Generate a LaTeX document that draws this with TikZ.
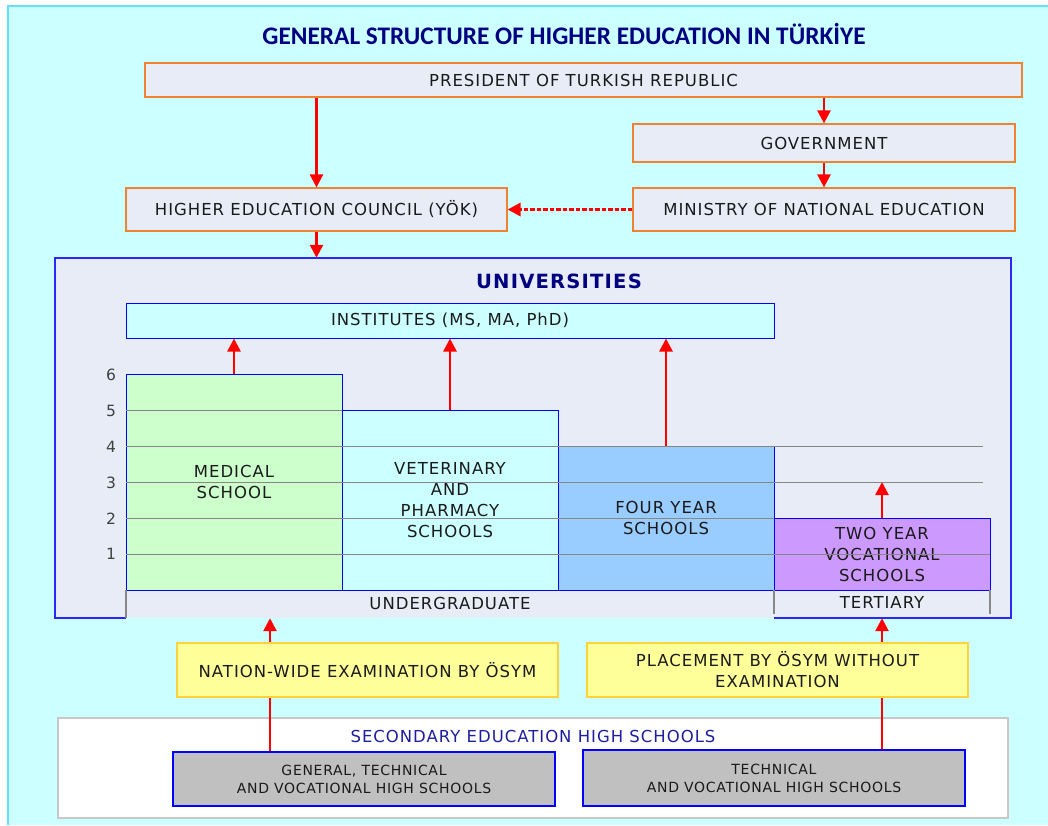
\documentclass[tikz,border=0pt]{standalone}
\usepackage{fontspec}
\usetikzlibrary{arrows.meta}
\newfontfamily\dvfont{DejaVu Sans}[LetterSpace=6]
\newfontfamily\dvsfont{DejaVu Sans}[LetterSpace=5]
\newfontfamily\dvnum{DejaVu Sans}
\newfontfamily\carl{Carlito}
\definecolor{cyanbg}{RGB}{204,255,255}
\definecolor{edgeblue}{RGB}{100,224,255}
\definecolor{boxfill}{RGB}{231,236,247}
\definecolor{orangeb}{RGB}{240,130,50}
\definecolor{navy}{RGB}{0,0,128}
\definecolor{secblue}{RGB}{30,30,160}
\definecolor{txt}{RGB}{26,26,26}
\definecolor{numc}{RGB}{64,64,64}
\definecolor{greenb}{RGB}{204,255,204}
\definecolor{bluebar}{RGB}{153,204,255}
\definecolor{purpleb}{RGB}{204,153,255}
\definecolor{yellowb}{RGB}{255,255,153}
\definecolor{yellowe}{RGB}{255,210,60}
\definecolor{grayb}{RGB}{192,192,192}
\definecolor{grayline}{RGB}{135,135,135}
\definecolor{secedge}{RGB}{200,200,200}
\definecolor{univedge}{RGB}{40,40,255}
\definecolor{arrred}{RGB}{255,0,0}
\newcommand\bodytxt{\fontsize{16.5}{21}\selectfont\dvfont}
\newcommand\smalltxt{\fontsize{14}{18}\selectfont\dvsfont}
\begin{document}
\begin{tikzpicture}[x=1pt,y=-1pt,
  topbox/.style={draw=orangeb, line width=1.2pt, fill=boxfill, inner sep=0pt, font=\bodytxt, text=txt},
  schoolbox/.style={draw=blue, line width=1pt, inner sep=0pt, font=\bodytxt, text=txt, align=center, minimum width=216pt},
  yelbox/.style={draw=yellowe, line width=1.2pt, fill=yellowb, inner sep=0pt, font=\bodytxt, text=txt, align=center, minimum width=381pt, minimum height=54pt},
  hsbox/.style={draw=blue, line width=1.2pt, fill=grayb, inner sep=0pt, font=\smalltxt, text=txt, align=center, minimum width=382pt},
  arr/.style={draw=arrred, line width=2.6pt, -{Triangle[length=13pt,width=13pt]}},
  darr/.style={draw=arrred, line width=3.2pt, dash pattern=on 4.5pt off 2pt, -{Triangle[length=13pt,width=13pt]}},
  grid/.style={draw=grayline, line width=1pt},
  tick/.style={draw=grayline, line width=1.5pt},
  num/.style={font=\fontsize{15.5}{17}\selectfont\dvnum, text=numc},
  plain/.style={font=\bodytxt, text=txt}
]
\useasboundingbox (0,0) rectangle (1048,825);
\fill[white] (0,0) rectangle (1048,825);
\fill[cyanbg] (8,6) rectangle (1048,825);
\draw[edgeblue, line width=2pt] (8,825) -- (8,6) -- (1048,6);

% title
\node[font=\fontsize{25.3}{30}\selectfont\carl\bfseries, text=navy] (title) at (564,34) {GENERAL STRUCTURE OF HIGHER EDUCATION IN TÜRKİYE};

% top boxes
\node[topbox, minimum width=877pt, minimum height=34pt] (pres) at (583.5,80) {PRESIDENT OF TURKISH REPUBLIC};
\node[topbox, minimum width=382pt, minimum height=38pt] (gov) at (824,143) {GOVERNMENT};
\node[topbox, minimum width=382pt, minimum height=43pt] (min) at (824,209.5) {MINISTRY OF NATIONAL EDUCATION};
\node[topbox, minimum width=381pt, minimum height=43pt] (yok) at (316.5,209.5) {HIGHER EDUCATION COUNCIL (YÖK)};

% universities
\node[fill=boxfill, inner sep=0pt, minimum width=956pt, minimum height=360pt] (univ) at (533,438) {};
\draw[univedge, line width=1.5pt] (126,618) -- (55,618) -- (55,258) -- (1011,258) -- (1011,618) -- (774,618);
\node[font=\fontsize{19.6}{22}\selectfont\dvfont\bfseries, text=navy] (univt) at (559,281) {UNIVERSITIES};

\node[schoolbox, fill=cyanbg, minimum width=648pt, minimum height=35pt] (inst) at (450,320.5) {INSTITUTES (MS, MA, PhD)};

\node[schoolbox, fill=greenb, minimum height=216pt] (med) at (234,482) {MEDICAL\\SCHOOL};
\node[schoolbox, fill=cyanbg, minimum height=180pt] (vet) at (450,500) {VETERINARY\\AND\\PHARMACY\\SCHOOLS};
\node[schoolbox, fill=bluebar, minimum height=144pt] (four) at (666,518) {FOUR YEAR\\SCHOOLS};
\node[schoolbox, fill=purpleb, minimum height=72pt] (two) at (882,554) {TWO YEAR\\VOCATIONAL\\SCHOOLS};

% grid lines
\draw[grid] (126,410) -- (342,410);
\draw[grid] (126,446) -- (983,446);
\draw[grid] (126,482) -- (983,482);
\draw[grid] (126,518) -- (774,518);
\draw[grid] (126,554) -- (990,554);

% level numbers
\node[num] (n6) at (111,375) {6};
\node[num] (n5) at (111,411) {5};
\node[num] (n4) at (111,447) {4};
\node[num] (n3) at (111,483) {3};
\node[num] (n2) at (111,519) {2};
\node[num] (n1) at (111,554) {1};

% bottom brackets
\draw[tick] (126,590) -- (126,618);
\draw[tick] (774,590) -- (774,614);
\draw[tick] (990,590) -- (990,614);
\node[plain] (ug) at (450,603) {UNDERGRADUATE};
\node[plain] (ter) at (882,602) {TERTIARY};

% arrows top
\draw[arr] (pres.south -| yok.north) -- (yok.north);
\draw[arr] (pres.south -| gov.north) -- (gov.north);
\draw[arr] (gov.south) -- (min.north);
\draw[darr] (min.west) -- (yok.east);
\draw[arr] (yok.south) -- (yok.south |- univ.north);

% arrows to institutes
\draw[arr] (med.north) -- (med.north |- inst.south);
\draw[arr] (vet.north) -- (vet.north |- inst.south);
\draw[arr] (four.north) -- (four.north |- inst.south);
\coordinate (lvl3) at (882,482);
\draw[arr] (two.north) -- (lvl3);

% secondary education
\node[draw=secedge, fill=white, line width=1.2pt, inner sep=0pt, minimum width=950pt, minimum height=100pt] (sec) at (533,768) {};
\node[font=\bodytxt, text=secblue] (sect) at (533,736) {SECONDARY EDUCATION HIGH SCHOOLS};
\node[hsbox, minimum height=54pt] (hsl) at (364,779) {GENERAL, TECHNICAL\\AND VOCATIONAL HIGH SCHOOLS};
\node[hsbox, minimum height=56pt] (hsr) at (774,778) {TECHNICAL\\AND VOCATIONAL HIGH SCHOOLS};

% arrows from high schools
\coordinate (ax1) at (270,0);
\coordinate (ax2) at (882,0);
\draw[arr] (hsl.north -| ax1) -- (univ.south -| ax1);
\draw[arr] (hsr.north -| ax2) -- (univ.south -| ax2);

% exam boxes
\node[yelbox] (exl) at (367.5,670) {NATION-WIDE EXAMINATION BY ÖSYM};
\node[yelbox] (exr) at (777.5,670) {PLACEMENT BY ÖSYM WITHOUT\\EXAMINATION};
\end{tikzpicture}
\end{document}
